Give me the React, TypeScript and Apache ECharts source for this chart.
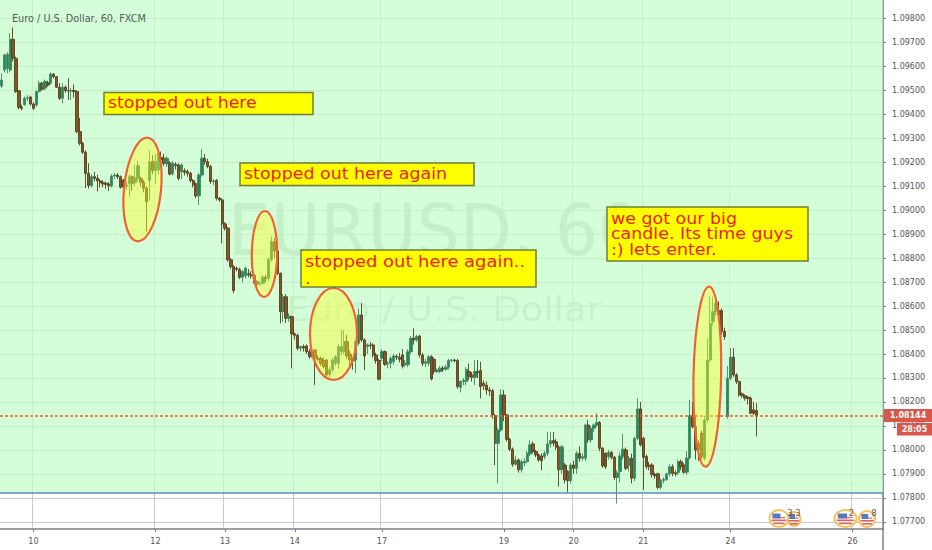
import React, { useEffect, useRef } from "react";
import * as echarts from "echarts";

// Candle rows: [open, close, low, high], in points above 1.00000 (8144 means 1.08144)
const day10: number[][] = [
[9518,9543,9510,9570],[9585,9648,9575,9652],[9590,9650,9572,9660],[9585,9713,9575,9738],[9713,9634,9620,9763],
[9634,9495,9490,9640],[9498,9429,9420,9500],[9429,9425,9417,9440],[9440,9467,9435,9475],[9467,9470,9455,9480],
[9472,9443,9436,9478],[9443,9425,9418,9450],[9439,9495,9430,9500],[9495,9530,9490,9540],[9530,9505,9498,9535],
[9509,9537,9500,9545],[9532,9522,9515,9540],[9530,9568,9525,9575],[9568,9557,9550,9572],[9557,9513,9510,9560],
[9513,9467,9460,9530],[9467,9513,9446,9530],[9513,9499,9490,9520],[9499,9497,9460,9550],[9497,9499,9460,9510],
[9499,9495,9470,9525],[9495,9328,9322,9500],[9328,9279,9270,9385],[9279,9242,9235,9285],[9242,9154,9092,9250],
[9154,9103,9090,9196],[9103,9140,9095,9150],[9140,9133,9120,9160],[9133,9122,9078,9148],[9122,9115,9095,9130],
[9115,9110,9095,9125],[9112,9108,9090,9120],[9108,9102,9080,9118],[9102,9143,9095,9150],[9143,9147,9130,9155],
[9147,9140,9130,9155],[9140,9096,9090,9145],[9126,9096,9088,9130],[9100,9105,9085,9120],[9110,9140,9057,9150],
[9140,9112,9080,9145],[9115,9135,9100,9190],[9133,9186,9120,9205],[9133,9117,9100,9140],[9117,9092,9075,9125],
[9092,9036,8911,9100],[9124,9202,9040,9250],[9203,9165,9150,9230],
];
const day12: number[][] = [
[9165,9203,9110,9235],[9168,9238,9150,9250],[9220,9212,9190,9245],[9217,9196,9185,9235],[9193,9217,9180,9225],
[9196,9151,9145,9205],[9154,9196,9145,9205],[9192,9186,9170,9200],[9189,9133,9125,9195],[9161,9189,9130,9195],
[9165,9158,9145,9175],[9161,9154,9140,9170],[9154,9124,9115,9160],[9124,9106,9095,9130],[9110,9060,9050,9115],
[9060,9147,9022,9155],[9147,9217,9140,9254],[9217,9203,9190,9235],[9203,9182,9175,9215],[9182,9120,9110,9190],
[9120,9122,9105,9130],[9124,9050,9040,9130],[9050,9043,9035,9055],[9043,8943,8862,9050],
];
const day13: number[][] = [
[8943,8925,8915,8950],[8925,8793,8785,8930],[8793,8765,8755,8800],[8765,8665,8654,8770],[8758,8754,8745,8765],
[8753,8720,8712,8760],[8720,8744,8700,8750],[8726,8758,8715,8765],[8735,8730,8720,8755],[8730,8726,8715,8745],
[8730,8702,8695,8735],[8702,8692,8680,8708],[8692,8695,8685,8705],[8695,8720,8690,8730],[8720,8716,8700,8730],
[8716,8795,8705,8800],[8795,8869,8785,8890],[8869,8830,8800,8885],[8830,8737,8730,8835],[8737,8577,8528,8740],
[8577,8639,8535,8650],[8639,8549,8530,8650],[8549,8558,8535,8570],[8556,8484,8340,8560],
];
const day14: number[][] = [
[8484,8478,8460,8490],[8478,8424,8415,8485],[8424,8431,8410,8435],[8431,8425,8410,8440],[8434,8410,8400,8440],
[8410,8389,8380,8420],[8389,8395,8385,8405],[8417,8382,8271,8420],[8382,8378,8370,8395],[8382,8361,8350,8390],
[8373,8347,8340,8385],[8375,8313,8305,8380],[8315,8334,8300,8345],[8334,8375,8325,8385],[8361,8389,8350,8395],
[8361,8431,8340,8440],[8410,8431,8395,8500],[8410,8452,8400,8500],[8452,8392,8380,8480],[8400,8375,8340,8415],
[8375,8372,8335,8385],[8375,8452,8320,8460],[8445,8563,8435,8590],[8563,8459,8450,8612],[8459,8392,8334,8465],
[8431,8438,8400,8445],[8438,8435,8420,8450],[8438,8396,8385,8445],[8396,8373,8360,8405],[8373,8295,8290,8380],
];
const day17: number[][] = [
[8382,8410,8370,8420],[8410,8357,8350,8415],[8358,8362,8340,8370],[8362,8382,8340,8390],[8368,8392,8355,8400],
[8390,8387,8375,8398],[8387,8378,8365,8405],[8396,8350,8340,8420],[8355,8362,8345,8375],[8355,8410,8345,8420],
[8410,8466,8400,8475],[8466,8459,8440,8507],[8459,8473,8450,8480],[8475,8396,8385,8480],[8396,8361,8350,8405],
[8361,8368,8345,8380],[8361,8389,8350,8395],[8389,8296,8290,8395],[8378,8327,8315,8385],[8327,8333,8320,8340],
[8327,8341,8320,8350],[8341,8337,8325,8350],[8337,8345,8330,8355],[8345,8373,8335,8380],[8373,8375,8365,8380],
[8375,8372,8365,8380],[8373,8264,8255,8380],[8261,8285,8240,8290],[8285,8291,8270,8300],[8285,8336,8270,8345],
[8327,8306,8290,8360],[8312,8303,8285,8325],[8303,8327,8270,8375],[8327,8322,8300,8375],[8331,8264,8215,8368],
[8278,8268,8250,8290],[8270,8250,8230,8285],[8250,8246,8225,8262],[8247,8146,8130,8255],[8142,8028,7937,8150],
[8028,8083,7861,8090],[8083,8229,8075,8253],
];
const day19: number[][] = [
[8229,8146,8120,8250],[8146,8044,8035,8150],[8044,8003,7995,8050],[8003,7940,7930,8010],[7940,7958,7935,7975],
[7958,7917,7905,7965],[7917,7951,7905,7960],[7945,7952,7930,7965],[7951,7986,7945,7995],[7983,8021,7975,8040],
[8025,7993,7985,8035],[7993,7979,7970,8000],[7979,7958,7950,7985],[7975,7955,7915,7985],[7972,7986,7960,7995],
[7986,8025,7975,8076],[8025,8039,8010,8075],[8039,8028,8015,8075],[8034,8011,8000,8045],[8011,7917,7847,8020],
[7919,8013,7900,8020],[7937,7875,7860,7945],[7909,7872,7822,7915],[7872,7937,7860,7945],
];
const day20: number[][] = [
[7937,7923,7900,7955],[7923,7986,7900,7995],[7986,7965,7950,8015],[7965,7972,7955,7985],[7965,8104,7955,8110],
[8104,8042,8030,8125],[8042,8090,8030,8100],[8090,8104,8075,8110],[8104,8114,8095,8153],[8114,8007,7995,8120],
[8007,7933,7925,8012],[7986,7930,7920,7990],[7972,7989,7960,8000],[7989,7969,7960,7995],[7969,7885,7875,7975],
[7885,7905,7777,7915],[7910,7975,7865,7990],[7972,8003,7960,8067],[8000,7923,7915,8010],[7935,7965,7910,7975],
[7965,7882,7860,7985],[7882,8048,7870,8055],[8048,8171,8040,8215],[8171,8021,8015,8200],
];
const day21: number[][] = [
[8048,7969,7833,8055],[7972,7930,7920,7980],[7937,7930,7915,7950],[7937,7898,7885,7945],[7898,7892,7880,7905],
[7900,7844,7835,7905],[7844,7872,7835,7880],[7872,7877,7860,7885],[7877,7900,7870,7905],[7900,7930,7890,7940],
[7930,7902,7890,7940],[7905,7900,7890,7915],[7905,7951,7895,7960],[7951,7930,7915,7960],[7937,7907,7900,7945],
[7907,7966,7895,7995],[7966,8143,7960,8209],[8143,8097,8090,8200],[8097,8000,7960,8140],[8028,8000,7955,8040],
[8070,7972,7960,8080],[7965,8125,7955,8140],[8125,8375,8115,8466],[8375,8528,8365,8640],[8535,8577,8520,8640],
[8577,8612,8560,8640],[8581,8563,8540,8620],[8581,8494,8480,8590],[8494,8473,8460,8510],[8139,8299,8130,8350],
];
const day24: number[][] = [
[8299,8387,8290,8425],[8387,8313,8305,8425],[8313,8285,8275,8320],[8285,8230,8222,8290],[8234,8226,8218,8240],
[8226,8216,8205,8232],[8220,8214,8190,8225],[8216,8153,8150,8222],[8167,8153,8145,8200],[8164,8144,8056,8195],
];

const dayTickIndex = [11, 53, 77, 101, 131, 173, 197, 221, 251, 293];
const dayTickLabels = ["10", "12", "13", "14", "17", "19", "20", "21", "24", "26"];
const barCount = 304;
const priceTicks = [1.077,1.078,1.079,1.08,1.081,1.082,1.083,1.084,1.085,1.086,1.087,1.088,1.089,1.09,1.091,1.092,1.093,1.094,1.095,1.096,1.097,1.098];
const lastPrice = 1.08144;
const supportPrice = 1.0782;
const axisMin = 1.0767;
const axisMax = 1.09877;

const font = "'DejaVu Sans', sans-serif";
const boxBorder = "#6e7d3c";
const axisGrey = "#7d7f8a";

function note(x: number, y: number, w: number, h: number, lines: string[], leading: number, firstY: number, stretch: number) {
  return [
    { type: "rect", z: 30, shape: { x, y, width: w, height: h }, style: { fill: "#ffff00", stroke: boxBorder, lineWidth: 1.5 } },
    ...lines.map((t, i) => ({
      type: "text", z: 31, x: x + 4, y: firstY + i * leading, scaleX: stretch,
      style: { text: t, fill: "#ee1c0c", fontFamily: font, fontSize: 16, verticalAlign: "middle" },
    })),
  ];
}
function ring(cx: number, cy: number, rx: number, ry: number, rotation: number) {
  return {
    type: "ellipse", z: 20, x: cx, y: cy, rotation, shape: { cx: 0, cy: 0, rx, ry },
    style: { fill: "rgba(255,255,40,0.42)", stroke: "#ee6236", lineWidth: 2.2 },
  };
}
function flag(cx: number, cy: number, rx: number, ry: number, num: string, nx: number) {
  return [
    { type: "ellipse", z: 12, shape: { cx, cy, rx, ry }, style: { fill: "#fff", stroke: "#f6c055", lineWidth: 2 } },
    { type: "rect", z: 13, shape: { x: cx - rx * 0.55, y: cy - 1.5, width: rx * 1.2, height: 1.2 }, style: { fill: "#e26a62" } },
    { type: "rect", z: 13, shape: { x: cx - rx * 0.8, y: cy + 1, width: rx * 1.6, height: 1.6 }, style: { fill: "#e0605a" } },
    { type: "rect", z: 13, shape: { x: cx - rx * 0.6, y: cy + 4, width: rx * 1.2, height: 1.6 }, style: { fill: "#e0605a" } },
    { type: "rect", z: 13, shape: { x: cx - rx * 0.7, y: cy - 5, width: rx * 0.85, height: 5 }, style: { fill: "#5a78b8" } },
    { type: "text", z: 14, x: nx, y: 513, style: { text: num, fill: "#555", fontFamily: font, fontSize: 8.5, align: "center", verticalAlign: "middle" } },
  ];
}

export default function App() {
  const ref = useRef<HTMLDivElement>(null);
  useEffect(() => {
    const chart = echarts.init(ref.current!, undefined, { renderer: "svg" });
    const rows = [...day10, ...day12, ...day13, ...day14, ...day17, ...day19, ...day20, ...day21, ...day24];
    const candles = rows.map((r) => r.map((p) => 1 + p / 100000));
    const categories = Array.from({ length: barCount }, (_, i) => {
      const k = dayTickIndex.indexOf(i);
      return k >= 0 ? dayTickLabels[k] : "";
    });
    const isDay = (_: number, v: string) => v !== "";
    chart.setOption({
      animation: false,
      backgroundColor: "#ffffff",
      title: {
        text: "Euro / U.S. Dollar, 60, FXCM", left: 7, top: 8,
        textStyle: { color: "#555c5c", fontFamily: font, fontSize: 9.7, fontWeight: "normal" },
      },
      grid: { left: -1, width: 884, top: 0, height: 529 },
      xAxis: {
        type: "category", data: categories, boundaryGap: true,
        axisLine: { lineStyle: { color: axisGrey, width: 1.5 } },
        axisTick: { show: true, interval: isDay, alignWithLabel: true, length: 3, lineStyle: { color: axisGrey } },
        axisLabel: { interval: isDay, color: "#555", fontFamily: font, fontSize: 8, margin: 8, hideOverlap: false },
        splitLine: { show: true, interval: isDay, lineStyle: { color: "#c9c9c9", width: 1 } },
      },
      yAxis: {
        type: "value", position: "right", min: axisMin, max: axisMax, scale: true,
        axisLine: { show: true, lineStyle: { color: axisGrey, width: 1.5 } },
        axisTick: { show: true, length: 3, customValues: priceTicks, lineStyle: { color: axisGrey } },
        axisLabel: { customValues: priceTicks, color: "#555", fontFamily: font, fontSize: 8, margin: 9, formatter: (v: number) => v.toFixed(5) },
        splitLine: { show: true, lineStyle: { color: "#c9c9c9", width: 1 } },
      },
      series: [
        {
          type: "candlestick", data: candles, barWidth: 2.8,
          itemStyle: { color: "#25875a", color0: "#8a5526", borderColor: "#3f8a64", borderColor0: "#54401f", borderWidth: 0.9 },
          markArea: {
            silent: true,
            itemStyle: { color: "rgba(195,253,200,0.72)" },
            data: [[{ yAxis: supportPrice }, { yAxis: axisMax }]],
          },
          markLine: {
            silent: true, symbol: "none", precision: 5, label: { show: false },
            data: [
              { yAxis: supportPrice, lineStyle: { color: "#5f8ac4", width: 1.5, type: "solid" } },
              { yAxis: lastPrice, lineStyle: { color: "#f0562a", width: 1.6, type: [3, 2], opacity: 1 } },
            ],
          },
        },
      ],
      graphic: {
        elements: [
          { type: "text", z: 0, x: 228, y: 230, scaleX: 0.94, style: { text: "EURUSD, 60", fill: "rgba(80,100,85,0.32)", fontFamily: font, fontSize: 72, verticalAlign: "middle" } },
          { type: "text", z: 0, x: 286, y: 309, scaleX: 1.09, style: { text: "Euro / U.S. Dollar", fill: "rgba(80,100,85,0.28)", fontFamily: font, fontSize: 34, verticalAlign: "middle" } },
          ring(142.5, 189.5, 18.5, 52, -0.1),
          ring(264.5, 254, 12.7, 43, -0.01),
          ring(333.5, 334, 23.5, 46, 0),
          ring(707.3, 376.7, 13.8, 90, -0.02),
          ...note(104, 92.5, 209, 22, ["stopped out here"], 16, 103, 1.085),
          ...note(240, 163, 234, 22.5, ["stopped out here again"], 16, 173.5, 1.09),
          ...note(301, 250, 235, 37, ["stopped out here again..", "."], 17, 261, 1.12),
          ...note(607, 207, 201, 54, ["we got our big", "candle. Its time guys", ":) lets enter."], 15.5, 218, 1.09),
          ...flag(794, 519, 6.5, 7, "3", 798),
          ...flag(779, 518.5, 9.5, 8.5, "3", 790),
          ...flag(845.5, 518.5, 11, 8.5, "2", 851.5),
          ...flag(867, 519, 8, 8, "8", 874),
          { type: "line", z: 5, shape: { x1: 883, y1: 529, x2: 883, y2: 550 }, style: { stroke: axisGrey, lineWidth: 1.5 } },
          { type: "rect", z: 40, shape: { x: 884, y: 409, width: 48, height: 13 }, style: { fill: "#d9574a" } },
          { type: "text", z: 41, x: 908, y: 415.5, style: { text: "1.08144", fill: "#fff", fontFamily: font, fontSize: 8, fontWeight: "bold", align: "center", verticalAlign: "middle" } },
          { type: "rect", z: 40, shape: { x: 897, y: 423, width: 35, height: 12.5 }, style: { fill: "#d9574a" } },
          { type: "text", z: 41, x: 914.5, y: 429.5, style: { text: "28:05", fill: "#fff", fontFamily: font, fontSize: 8, fontWeight: "bold", align: "center", verticalAlign: "middle" } },
        ],
      },
    });
    return () => chart.dispose();
  }, []);
  return <div ref={ref} style={{ position: "absolute", left: 0, top: 0, width: 932, height: 550 }} />;
}
